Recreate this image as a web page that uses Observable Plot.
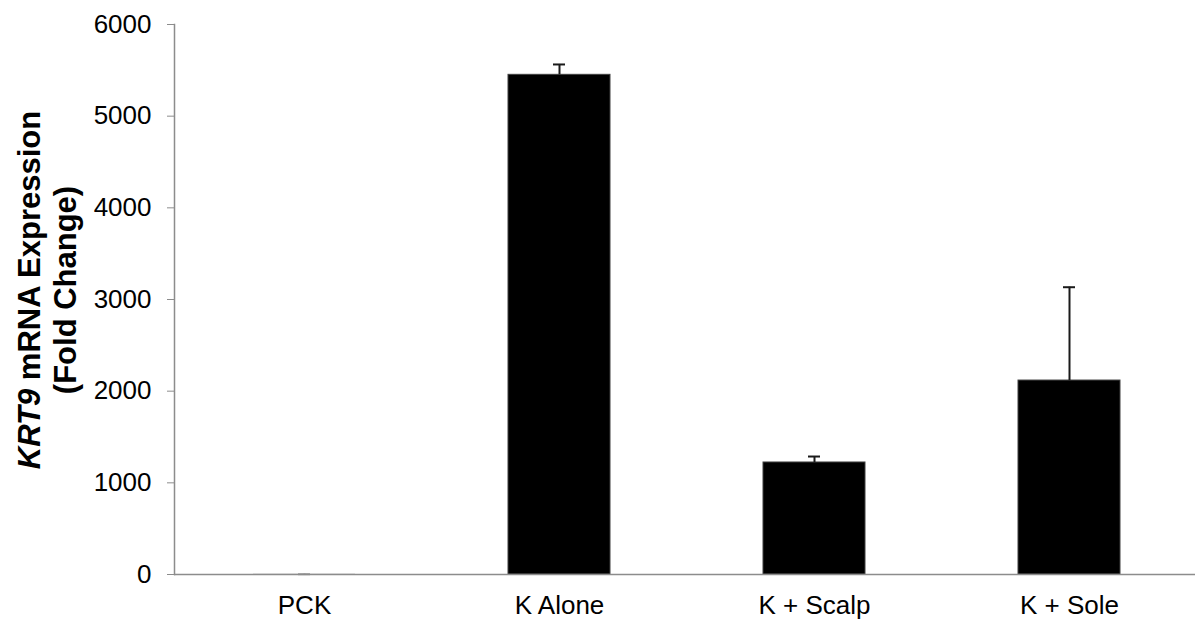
<!DOCTYPE html>
<html>
<head>
<meta charset="utf-8">
<script src="https://cdn.jsdelivr.net/npm/d3@7"></script>
<script src="https://cdn.jsdelivr.net/npm/@observablehq/plot@0.6"></script>
<style>
  html, body { margin: 0; padding: 0; background: white; }
  #chart svg { display: block; }
</style>
</head>
<body>
<div id="chart"></div>
<script>
const categories = ["PCK", "K Alone", "K + Scalp", "K + Sole"];
const values = [1, 5451, 1222, 2116];
const errors = [2, 113, 65, 1018];
const yTicks = [0, 1000, 2000, 3000, 4000, 5000, 6000];

const data = categories.map((c, i) => ({category: c, value: values[i], err: errors[i]}));

const axisColor = "#8c8c8c";
const font = "'Liberation Sans', Arial, Helvetica, sans-serif";

const svg = Plot.plot({
  width: 1195,
  height: 621,
  marginLeft: 174,
  marginRight: 0,
  marginTop: 24,
  marginBottom: 47,
  x: {domain: categories, range: [175.5, 1198], paddingInner: 0.6, paddingOuter: 0.3, align: 0.5, label: null},
  y: {domain: [0, 6000], label: null},
  style: {fontFamily: font, fontSize: "26px", color: "black", background: "white", overflow: "visible"},
  marks: [
    Plot.barY(data, {x: "category", y: "value", fill: "black", stroke: d => d.value > 10 ? "#404040" : "none", strokeWidth: 1}),
    Plot.ruleX(data, {x: "category", y1: "value", y2: d => d.value + d.err, stroke: "#1a1a1a", strokeWidth: 2}),
    Plot.tickY(data, {x: "category", y: d => d.value + d.err, stroke: d => d.value > 10 ? "#1a1a1a" : "#999999", strokeWidth: 2, insetLeft: 45, insetRight: 45}),
    Plot.ruleY([0], {stroke: axisColor, strokeWidth: 1.5}),
    Plot.frame({anchor: "left", stroke: axisColor, strokeWidth: 1.5}),
    Plot.axisY({ticks: yTicks, tickSize: 7, tickPadding: 16, stroke: axisColor, fill: "black", label: null, fontSize: 26, tickFormat: d => String(d)}),
    Plot.axisX({tickSize: 0, tickPadding: 20.6, label: null, fill: "black", fontSize: 26})
  ]
});

const s = d3.select(svg);
const t1 = s.append("text")
  .attr("transform", "rotate(-90)")
  .attr("x", -290).attr("y", 40)
  .attr("text-anchor", "middle")
  .attr("font-family", font).attr("font-weight", "bold").attr("font-size", 31)
  .attr("fill", "black");
t1.append("tspan").attr("font-style", "italic").text("KRT9");
t1.append("tspan").text(" mRNA Expression");
s.append("text")
  .attr("transform", "rotate(-90)")
  .attr("x", -290).attr("y", 76)
  .attr("text-anchor", "middle")
  .attr("font-family", font).attr("font-weight", "bold").attr("font-size", 31)
  .attr("fill", "black")
  .text("(Fold Change)");
s.append("text")
  .attr("x", -13).attr("y", 14)
  .attr("font-family", font).attr("font-weight", "bold").attr("font-size", 30)
  .attr("fill", "black")
  .text("B");

document.getElementById("chart").appendChild(svg);
</script>
</body>
</html>
